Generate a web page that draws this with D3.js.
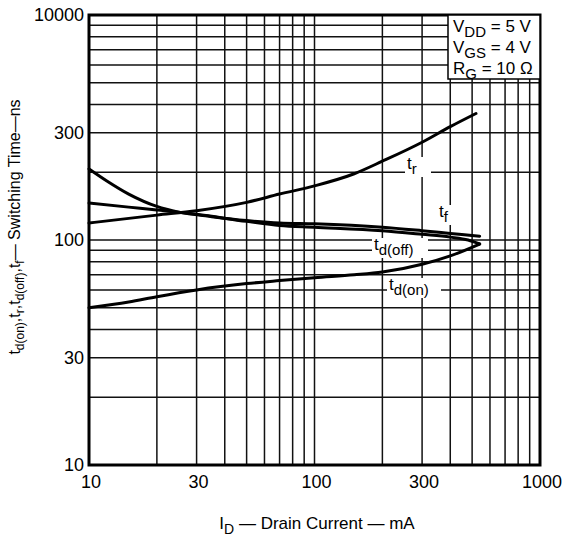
<!DOCTYPE html>
<html>
<head>
<meta charset="utf-8">
<script src="https://cdn.jsdelivr.net/npm/d3@7"></script>
<style>
  body { margin: 0; background: #fff; }
  svg { display: block; font-family: "Liberation Sans", Arial, Helvetica, sans-serif; }
</style>
</head>
<body>
<svg id="chart" width="574" height="538"></svg>
<script>
// Drain current (mA) / switching time (ns)
const trI = [10, 20, 30, 50, 70, 100, 150, 200, 300, 400, 520];
const trT = [119, 129, 135, 147, 160, 174, 197, 224, 272, 319, 365];

const tfI = [10, 12, 15, 20, 25, 35, 50, 70, 100, 200, 300, 400, 540];
const tfT = [207, 183, 160, 141, 133, 127, 122, 119, 118, 114, 110, 107, 104];

const tdOffI = [10, 15, 20, 30, 50, 70, 100, 200, 300, 400, 480, 540];
const tdOffT = [146, 140, 136, 130, 121, 116, 114, 110, 106, 103, 100, 96];

const tdOnI = [10, 15, 20, 30, 50, 70, 100, 150, 200, 300, 400, 540];
const tdOnT = [50, 53, 56, 60, 64, 66, 68, 70, 72, 78, 85, 96];

const xTicks = [10, 30, 100, 300, 1000];
const xTickLabels = ['10', '30', '100', '300', '1000'];
const yTicks = [10, 30, 100, 300, 1000];
const yTickLabels = ['10', '30', '100', '300', '10000']; // top label printed as in the original

const conditions = [['V', 'DD', ' = 5 V'], ['V', 'GS', ' = 4 V'], ['R', 'G', ' = 10 \u03A9']];

const svg = d3.select('#chart');
const pLeft = 89, pRight = 540, pTop = 15, pBottom = 465;

const x = d3.scaleLog().domain([10, 1000]).range([pLeft, pRight]);
const y = d3.scaleLog().domain([10, 1000]).range([pBottom, pTop]);

// Log grid: 1..9 in every decade
let gridVals = [];
for (let d of [10, 100])
    for (let k = 1; k <= 9; k++)
        gridVals.push(k * d);
gridVals.push(1000);

const grid = svg.append('g').attr('stroke', '#111').attr('stroke-width', 1.5);
grid.selectAll('line.v').data(gridVals).join('line')
    .attr('class', 'v')
    .attr('x1', d => x(d)).attr('x2', d => x(d))
    .attr('y1', pTop).attr('y2', pBottom);
grid.selectAll('line.h').data(gridVals).join('line')
    .attr('class', 'h')
    .attr('y1', d => y(d)).attr('y2', d => y(d))
    .attr('x1', pLeft).attr('x2', pRight);

// Frame
svg.append('rect')
    .attr('x', pLeft).attr('y', pTop)
    .attr('width', pRight - pLeft).attr('height', pBottom - pTop)
    .attr('fill', 'none').attr('stroke', '#000').attr('stroke-width', 3);

// Curves
const line = d3.line()
    .x(d => x(d[0]))
    .y(d => y(d[1]))
    .curve(d3.curveMonotoneX);

const series = [
    [trI, trT],
    [tfI, tfT],
    [tdOffI, tdOffT],
    [tdOnI, tdOnT]
];
svg.append('g').selectAll('path').data(series).join('path')
    .attr('d', s => line(s[0].map((v, i) => [v, s[1][i]])))
    .attr('fill', 'none')
    .attr('stroke', '#000')
    .attr('stroke-width', 3)
    .attr('stroke-linecap', 'round');

// helper: text with a subscript part
function subText(g, parts, size, subSize) {
    let t = g.append('text').attr('font-size', size).attr('fill', '#000');
    parts.forEach(p => {
        if (p.sub)
            t.append('tspan').attr('font-size', subSize).attr('dy', size * 0.28).text(p.sub);
        else
            t.append('tspan').attr('dy', p.after ? -size * 0.28 : 0).text(p.text);
    });
    return t;
}

// Curve labels on white patches (they break the grid)
const curveLabels = [
    {main: 't', sub: 'r', cx: 418, cy: 167, w: 26},
    {main: 't', sub: 'f', cx: 446, cy: 215, w: 18},
    {main: 't', sub: 'd(off)', cx: 400, cy: 248, w: 56},
    {main: 't', sub: 'd(on)', cx: 414, cy: 288, w: 54}
];
const lab = svg.append('g');
curveLabels.forEach(c => {
    lab.append('rect')
        .attr('x', c.cx - c.w / 2).attr('y', c.cy - 10)
        .attr('width', c.w).attr('height', 20)
        .attr('fill', '#fff');
    let t = subText(lab, [{text: c.main}, {sub: c.sub}], 17, 15);
    t.attr('x', c.cx - c.w / 2 + 2).attr('y', c.cy + 2);
});

// Conditions box
const box = svg.append('g');
box.append('rect')
    .attr('x', 448).attr('y', pTop).attr('width', pRight - 448).attr('height', 64)
    .attr('fill', '#fff').attr('stroke', '#000').attr('stroke-width', 1.5);
conditions.forEach((c, i) => {
    let t = subText(box, [{text: c[0]}, {sub: c[1]}, {text: c[2], after: true}], 17, 15);
    t.attr('x', 453).attr('y', 32 + i * 21);
});

// Tick labels
svg.append('g').selectAll('text').data(xTicks).join('text')
    .attr('x', d => x(d) + 2)
    .attr('y', pBottom + 23)
    .attr('text-anchor', 'middle')
    .attr('font-size', 18)
    .text((d, i) => xTickLabels[i]);

svg.append('g').selectAll('text').data(yTicks).join('text')
    .attr('x', pLeft - 5)
    .attr('y', d => y(d) + 6)
    .attr('text-anchor', 'end')
    .attr('font-size', 18)
    .text((d, i) => yTickLabels[i]);

// Axis titles
let xt = subText(svg, [{text: 'I'}, {sub: 'D'}, {text: ' \u2014 Drain Current \u2014 mA', after: true}], 17, 14);
xt.attr('x', 317).attr('y', 529).attr('text-anchor', 'middle');

let yt = svg.append('text')
    .attr('font-size', 16)
    .attr('text-anchor', 'middle')
    .attr('transform', 'translate(24,227) rotate(-90)');
[['t', 'd(on)'], [',t', 'r'], [',t', 'd(off)'], [',t', 'f']].forEach(p => {
    yt.append('tspan').attr('dy', yt.node().childNodes.length ? -4 : 0).text(p[0]);
    yt.append('tspan').attr('font-size', 12).attr('dy', 4).text(p[1]);
});
yt.append('tspan').attr('dy', -4).text('\u2014 Switching Time\u2014ns');
</script>
</body>
</html>
